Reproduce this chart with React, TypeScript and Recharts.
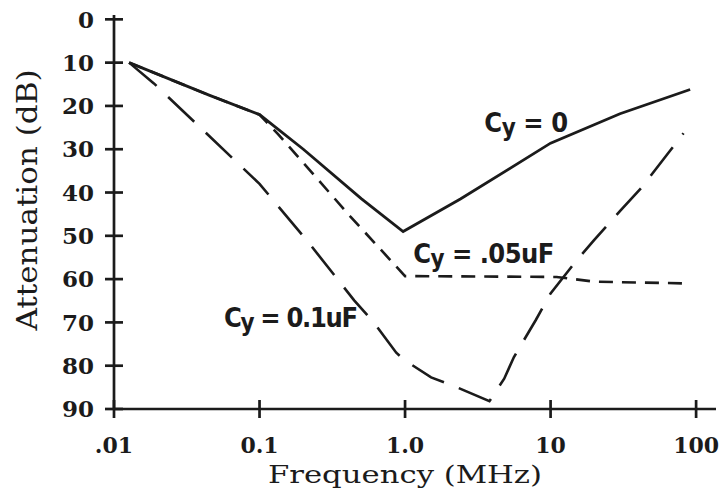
import { LineChart, Line, XAxis, YAxis, ReferenceDot } from 'recharts'

const INK = '#1b1b1b'
const SERIF = "'DejaVu Serif', 'Liberation Serif', serif"
const NARROW = "'Liberation Sans Narrow', 'DejaVu Sans Condensed', 'Liberation Sans', sans-serif"

// axes
const xTicks = [0.01, 0.1, 1, 10, 100]
const xTickLabels = ['.01', '0.1', '1.0', '10', '100']
const yTicks = [0, 10, 20, 30, 40, 50, 60, 70, 80, 90]

// Cy = 0 (solid)
const cy0Freq = [0.0127, 0.045, 0.1, 0.2, 0.5, 0.97, 2.4, 10, 30, 91]
const cy0Atten = [10, 17.5, 22, 30, 41.4, 49, 41.5, 28.6, 21.8, 16.2]

// Cy = .05uF (short dash)
const cy05Freq = [0.0127, 0.045, 0.1, 0.134, 0.42, 1.0, 11, 20, 88]
const cy05Atten = [10, 17.5, 22, 26.5, 45.5, 59.3, 59.5, 60.6, 61]

// Cy = 0.1uF (long dash)
const cy1Freq = [0.0127, 0.0188, 0.1, 0.219, 0.447, 0.61, 0.87, 1.0, 1.51, 2.1, 3.8, 4.8, 5.6, 7.9, 10, 14.5, 19.9, 30.5, 41.8, 64, 82]
const cy1Atten = [10, 14.8, 38, 51.7, 64.9, 70, 77, 78.8, 82.7, 84.5, 88.2, 83, 78, 69.5, 63.3, 56.4, 51, 44, 39, 31, 26.3]

// curve annotations
const noteText = ['= 0', '= .05uF', '= 0.1uF']
const noteFreq = [3.5, 1.14, 0.057]
const noteAtten = [26, 56.3, 71]
const noteWidth = [84, 141, 134]

const toPoints = (f: number[], a: number[]) => f.map((x, i) => ({ f: x, a: a[i] }))

function YTick({ x, y, payload }: any) {
  return (
    <g>
      <line x1={x - 9} x2={x + 9} y1={y} y2={y} stroke={INK} strokeWidth={2.7} />
      <text x={x - 20} y={y} dy="0.36em" textAnchor="end" fontFamily={SERIF} fontWeight="bold"
        fontSize={23} fill={INK}>
        {payload.value}
      </text>
    </g>
  )
}

function XTick({ x, y, payload, index }: any) {
  return (
    <g>
      <line x1={x} x2={x} y1={y - 9} y2={y + 9} stroke={INK} strokeWidth={2.7} />
      <text x={x} y={y + 44} textAnchor="middle" fontFamily={SERIF} fontWeight="bold" fontSize={22} fill={INK}>
        {xTickLabels[index] ?? payload.value}
      </text>
    </g>
  )
}

function XTitle({ viewBox }: any) {
  const cx = viewBox.x + (viewBox.width - 20) / 2
  return (
    <text x={cx} y={viewBox.y + 74} textAnchor="middle" fontFamily={SERIF} fontSize={24} fill={INK}
      textLength={274} lengthAdjust="spacingAndGlyphs">
      Frequency (MHz)
    </text>
  )
}

function YTitle({ viewBox }: any) {
  const cy = viewBox.y + viewBox.height / 2 - 12
  const bx = 37
  return (
    <text x={bx} y={cy} transform={`rotate(-90, ${bx}, ${cy})`} textAnchor="middle" fontFamily={SERIF}
      fontSize={28} fill={INK} textLength={261} lengthAdjust="spacingAndGlyphs">
      Attenuation (dB)
    </text>
  )
}

function Note({ cx, cy, text, width }: any) {
  return (
    <text x={cx} y={cy} fontFamily={NARROW} fontWeight="bold" fontSize={27} fill={INK} textLength={width}
      lengthAdjust="spacing">
      C<tspan dy={4} fontSize={24}>y</tspan>
      <tspan dy={-4}> {text}</tspan>
    </text>
  )
}

export default function App() {
  return (
    <div style={{ position: 'absolute', left: 0, top: 0, background: '#fff' }}>
      <LineChart width={719} height={495} margin={{ top: 15, right: 3, bottom: 0, left: 0 }}>
        <XAxis
          dataKey="f"
          type="number"
          scale="log"
          domain={[0.01, 137]}
          allowDataOverflow
          ticks={xTicks}
          interval={0}
          height={86}
          tickSize={0}
          tickMargin={0}
          tickLine={false}
          tick={<XTick />}
          axisLine={{ stroke: INK, strokeWidth: 2.7 }}
          label={{ content: (p: any) => <XTitle viewBox={p.viewBox} /> }}
        />
        <YAxis
          type="number"
          reversed
          domain={[-1, 90]}
          allowDataOverflow
          ticks={yTicks}
          interval={0}
          width={114}
          tickSize={0}
          tickMargin={0}
          tickLine={false}
          tick={<YTick />}
          axisLine={{ stroke: INK, strokeWidth: 2.7 }}
          label={{ content: (p: any) => <YTitle viewBox={p.viewBox} /> }}
        />
        <Line
          data={toPoints(cy05Freq, cy05Atten)}
          dataKey="a"
          type="linear"
          stroke={INK}
          strokeWidth={2.6}
          strokeDasharray="14 9"
          dot={false}
          activeDot={false}
          isAnimationActive={false}
        />
        <Line
          data={toPoints(cy1Freq, cy1Atten)}
          dataKey="a"
          type="linear"
          stroke={INK}
          strokeWidth={2.6}
          strokeDasharray="36 16"
          dot={false}
          activeDot={false}
          isAnimationActive={false}
        />
        <Line
          data={toPoints(cy0Freq, cy0Atten)}
          dataKey="a"
          type="linear"
          stroke={INK}
          strokeWidth={2.8}
          dot={false}
          activeDot={false}
          isAnimationActive={false}
        />
        {noteText.map((t, i) => (
          <ReferenceDot
            key={t}
            x={noteFreq[i]}
            y={noteAtten[i]}
            r={0}
            ifOverflow="visible"
            shape={(p: any) => <Note cx={p.cx} cy={p.cy} text={t} width={noteWidth[i]} />}
          />
        ))}
      </LineChart>
    </div>
  )
}
